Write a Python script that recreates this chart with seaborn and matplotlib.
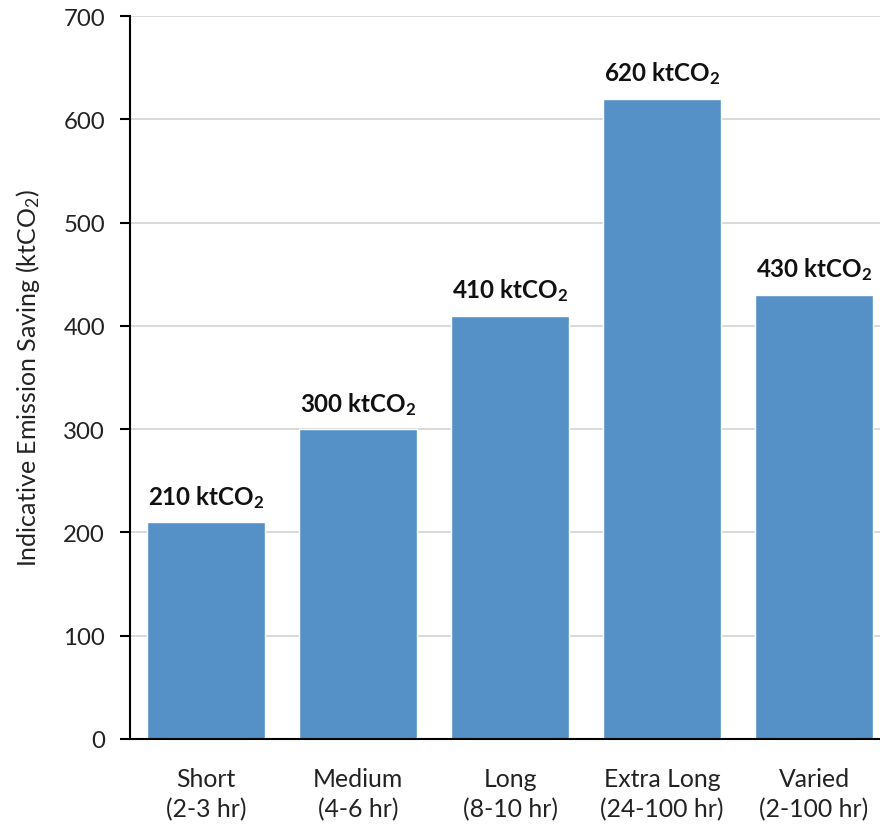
import matplotlib
matplotlib.use("Agg")
import matplotlib.pyplot as plt
import seaborn as sns
import pandas as pd

categories = ["Short\n(2-3 hr)", "Medium\n(4-6 hr)", "Long\n(8-10 hr)",
              "Extra Long\n(24-100 hr)", "Varied\n(2-100 hr)"]
savings = [210, 300, 410, 620, 430]
y_ticks = [0, 100, 200, 300, 400, 500, 600, 700]

sns.set_theme(style="white")
plt.rcParams["font.family"] = ["Lato", "DejaVu Sans"]
plt.rcParams["mathtext.fontset"] = "custom"
plt.rcParams["mathtext.rm"] = "Lato"
plt.rcParams["mathtext.bf"] = "Lato:bold"
plt.rcParams["mathtext.default"] = "regular"

df = pd.DataFrame({"category": categories, "saving": savings})

fig = plt.figure(figsize=(8.8, 8.29), dpi=100)
ax = fig.add_axes([130 / 880, 89 / 829, 760 / 880, 723 / 829])

sns.barplot(data=df, x="category", y="saving", color="#5591C6",
            saturation=1, width=0.78, ax=ax, zorder=3)

ax.set_xlim(-0.5, 4.5)
ax.set_ylim(0, 700)
ax.set_yticks(y_ticks)
ax.yaxis.grid(True, color="#D3D3D3", linewidth=1.2, zorder=0)
ax.xaxis.grid(False)

for s in ["top", "right"]:
    ax.spines[s].set_visible(False)
for s in ["left", "bottom"]:
    ax.spines[s].set_color("black")
    ax.spines[s].set_linewidth(1.5)
    ax.spines[s].set_zorder(4)

ax.tick_params(axis="y", which="major", left=True, length=7, width=1.5,
               color="black", labelsize=17.3, pad=11, labelcolor="#222222")
ax.tick_params(axis="x", which="major", bottom=False, labelsize=17.8,
               pad=14, labelcolor="#222222")
for lbl in ax.get_xticklabels():
    lbl.set_linespacing(1.38)
ax.set_xlabel("")
ax.set_ylabel("Indicative Emission Saving (ktCO$_2$)", fontsize=18,
              color="#222222", labelpad=15)

for i, v in enumerate(savings):
    ax.annotate(f"{v} ktCO$_2$", xy=(i, v), xytext=(0, 9),
                textcoords="offset points", ha="center", va="bottom",
                fontsize=17.4, fontweight="bold", color="#111111")

fig.savefig("out.png", dpi=100)
